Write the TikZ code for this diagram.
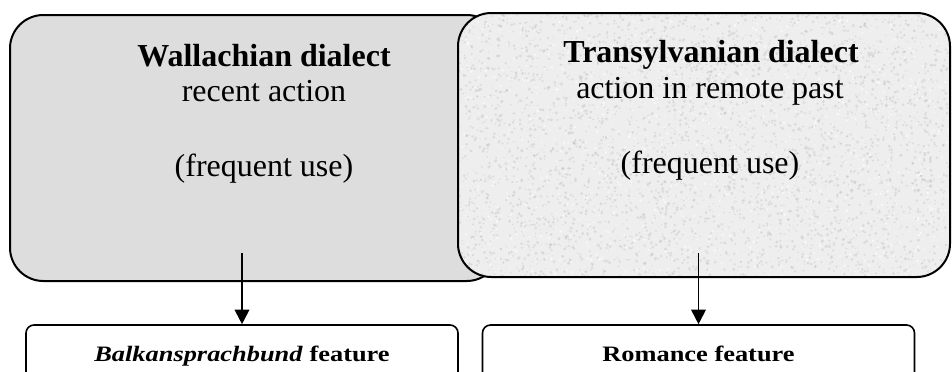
\documentclass[tikz,border=0pt]{standalone}
\usepackage{fontspec}
\setmainfont{Liberation Serif}
\newfontfamily\featfont[FakeStretch=1.2]{Liberation Serif}
\usetikzlibrary{arrows.meta}
\definecolor{wallgray}{HTML}{DDDDDD}
\definecolor{transgray}{HTML}{EEEEEE}
\tikzstyle{dialect} = [rectangle, rounded corners=25pt, draw=black, line width=1.5pt]
\tikzstyle{feature} = [rectangle, rounded corners=6pt, draw=black, line width=1.2pt, minimum width=324pt, minimum height=46.5pt, text height=12pt, text depth=4pt, font=\featfont\fontsize{16.5}{19}\selectfont]
\tikzstyle{arrow} = [line width=1.4pt,-{Triangle[length=11pt,width=11pt]}]

\begin{document}
\begin{tikzpicture}[x=0.75pt, y=-0.75pt,
dtext/.style={anchor=base, inner sep=0pt, font=\fontsize{24}{27}\selectfont},
dtitle/.style={dtext, font=\fontsize{24}{27}\selectfont\bfseries},
]
\pgfmathsetseed{7}
\clip (0,0) rectangle (952,371);

%Boxes
\node[dialect, fill=wallgray, minimum width=367.5pt, minimum height=199.5pt] (wallbox) at (255,148) {};
% grain is drawn around the node centre
\node[dialect, fill=transgray, minimum width=369pt, minimum height=198pt,
  path picture={
    \foreach \k in {1,...,4000}
      \fill[gray!60, opacity=0.3] ({-246+492*rnd},{-132+264*rnd}) circle[radius={0.5+1.2*rnd}];
    \foreach \k in {1,...,1200}
      \fill[white, opacity=0.6] ({-246+492*rnd},{-132+264*rnd}) circle[radius={0.5+1.0*rnd}];
  }] (transbox) at (704,145) {};

%Texts
\node[dtitle] (walltitle) at (264,66)    {Wallachian dialect};
\node[dtext]  (wallsense) at (264,101.5) {recent action};
\node[dtext]  (walluse)   at (264,176.5) {(frequent use)};
\node[dtitle] (transtitle) at (711,62)  {Transylvanian dialect};
\node[dtext]  (transsense) at (710,98)  {action in remote past};
\node[dtext]  (transuse)   at (710,173) {(frequent use)};

\node[feature] (balkan)  at (242,356)   {\textbf{\textit{Balkansprachbund} feature}};
\node[feature] (romance) at (698.5,356) {\textbf{Romance feature}};

%Lines
\coordinate (walltail)  at (242,253);
\coordinate (transtail) at (698.5,253);
\draw[arrow] (walltail) -- (balkan.north);
\draw[arrow] (transtail) -- (romance.north);

\end{tikzpicture}
\end{document}
